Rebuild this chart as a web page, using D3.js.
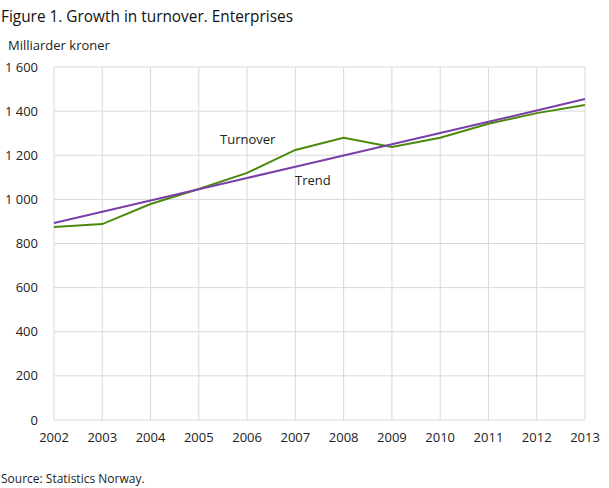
<!DOCTYPE html>
<html>
<head>
<meta charset="utf-8">
<style>
  body { margin: 0; background: #fff; }
  svg { font-family: "Open Sans", sans-serif; }
</style>
</head>
<body>
<div id="chart"></div>
<script src="https://cdn.jsdelivr.net/npm/d3@7"></script>
<script>
const years = [2002, 2003, 2004, 2005, 2006, 2007, 2008, 2009, 2010, 2011, 2012, 2013];
const turnover = [875, 888, 979, 1047, 1120, 1224, 1279, 1237, 1279, 1343, 1391, 1428];
const trend = [893, 944, 995, 1046, 1097, 1148, 1199, 1250, 1301, 1352, 1403, 1455];
const yTicks = [0, 200, 400, 600, 800, 1000, 1200, 1400, 1600];

const W = 609, H = 488;
const margin = { left: 54, right: 24, top: 67, bottom: 68 };

const svg = d3.select("#chart").append("svg")
  .attr("width", W).attr("height", H);

const x = d3.scaleLinear().domain([2002, 2013]).range([margin.left, W - margin.right]);
const y = d3.scaleLinear().domain([0, 1600]).range([H - margin.bottom, margin.top]);

const fmt = v => d3.format(",")(v).replace(/,/g, " ");

// grid
svg.append("g").selectAll("line").data(yTicks).join("line")
  .attr("x1", x(2002)).attr("x2", x(2013))
  .attr("y1", d => y(d)).attr("y2", d => y(d))
  .attr("stroke", "#d9d9d9").attr("stroke-width", 1);
svg.append("g").selectAll("line").data(years).join("line")
  .attr("x1", d => x(d)).attr("x2", d => x(d))
  .attr("y1", y(0)).attr("y2", y(1600))
  .attr("stroke", "#d9d9d9").attr("stroke-width", 1);

// axis labels
svg.append("g").selectAll("text").data(yTicks).join("text")
  .attr("x", 38).attr("y", d => y(d) + 4.5)
  .attr("text-anchor", "end")
  .attr("font-size", 13).attr("fill", "#222")
  .text(fmt);
svg.append("g").selectAll("text").data(years).join("text")
  .attr("x", d => x(d)).attr("y", y(0) + 22)
  .attr("text-anchor", "middle")
  .attr("font-size", 13).attr("fill", "#222")
  .text(d => d);

// lines
const line = d3.line().x((d, i) => x(years[i])).y(d => y(d));
svg.append("path").datum(turnover).attr("d", line)
  .attr("fill", "none").attr("stroke", "#4b8a0c").attr("stroke-width", 2);
svg.append("path").datum(trend).attr("d", line)
  .attr("fill", "none").attr("stroke", "#7b3fa8").attr("stroke-width", 2);

// series labels
svg.append("text").attr("x", 220).attr("y", 144)
  .attr("font-size", 13).attr("fill", "#222").text("Turnover");
svg.append("text").attr("x", 295).attr("y", 185)
  .attr("font-size", 13).attr("fill", "#222").text("Trend");

// title, unit, source
svg.append("text").attr("x", 1).attr("y", 22)
  .attr("font-size", 17).attr("font-weight", 500).attr("fill", "#111")
  .attr("textLength", 292).attr("lengthAdjust", "spacingAndGlyphs")
  .text("Figure 1. Growth in turnover. Enterprises");
svg.append("text").attr("x", 8).attr("y", 50)
  .attr("font-size", 13).attr("fill", "#222").text("Milliarder  kroner");
svg.append("text").attr("x", 1).attr("y", 483)
  .attr("font-size", 12).attr("fill", "#222")
  .style("font-family", "'Liberation Sans Narrow', 'Open Sans', sans-serif")
  .text("Source: Statistics Norway.");
</script>
</body>
</html>
